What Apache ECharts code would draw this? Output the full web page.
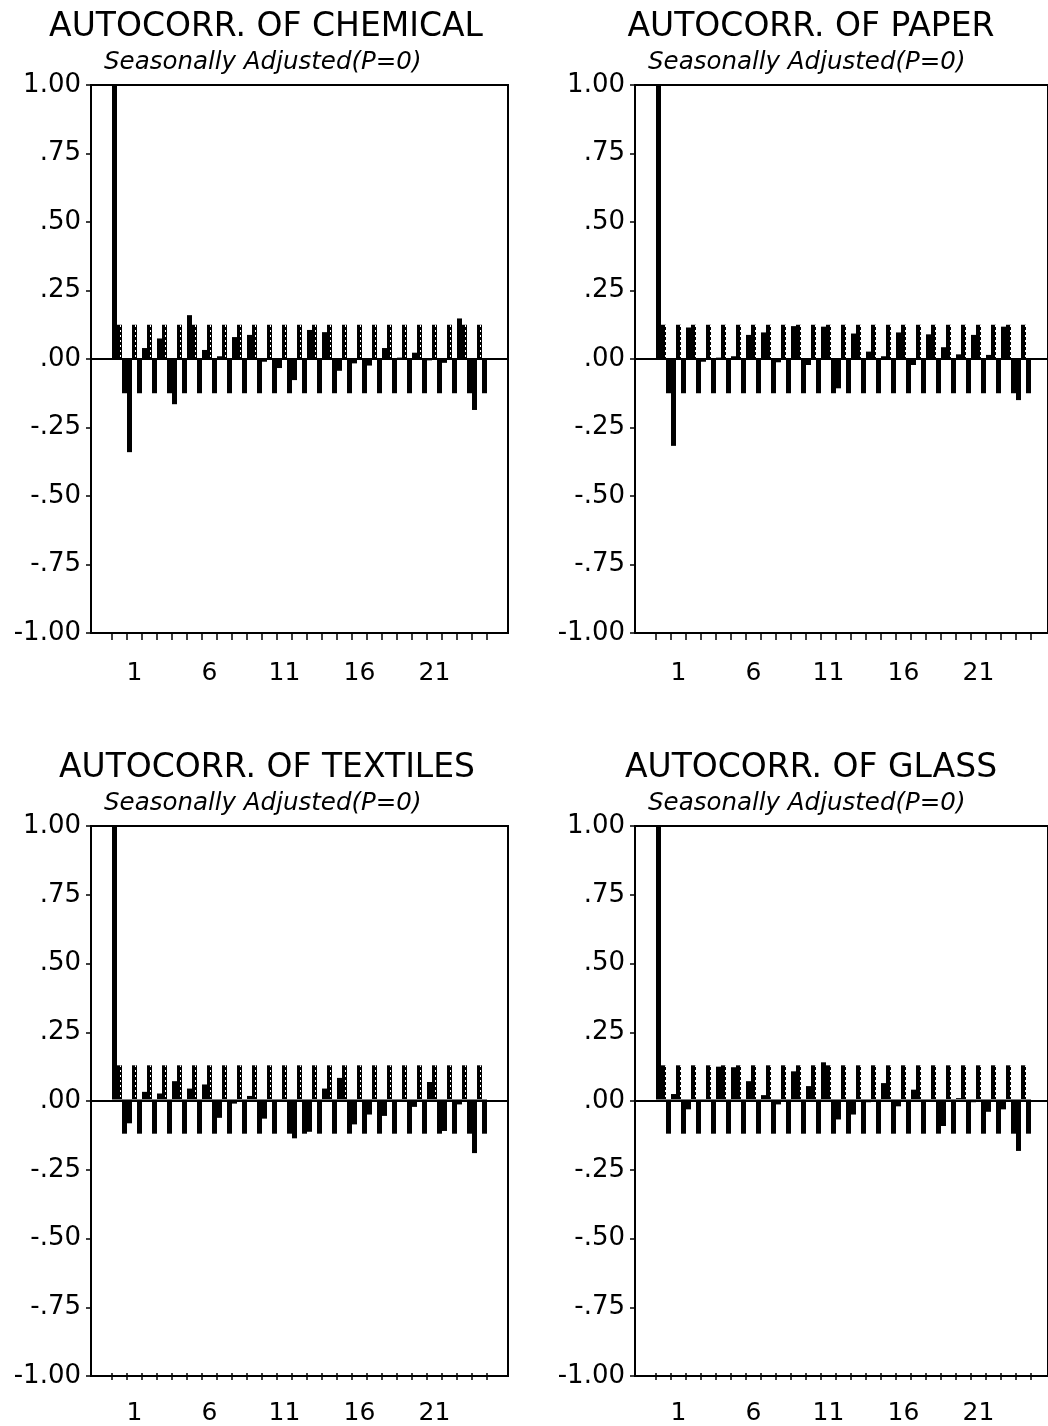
<!DOCTYPE html>
<html>
<head>
<meta charset="utf-8">
<script src="https://cdn.jsdelivr.net/npm/echarts@6/dist/echarts.min.js"></script>
<style>
  html, body { margin: 0; padding: 0; background: #fff; }
  #chart { width: 1048px; height: 1426px; }
</style>
</head>
<body>
<div id="chart"></div>
<script>
// ---- Data ----
const lags = ['0','1','2','3','4','5','6','7','8','9','10','11','12','13','14','15','16','17','18','19','20','21','22','23','24'];
const xLabelShown = ['1','6','11','16','21'];
const yTickValues = [-1, -0.75, -0.5, -0.25, 0, 0.25, 0.5, 0.75, 1];
const yTickLabels = ['-1.00','-.75','-.50','-.25','.00','.25','.50','.75','1.00'];

const chemicalAcf = [1.00, -0.34, 0.04, 0.075, -0.165, 0.16, 0.033, 0.01, 0.08, 0.088, -0.01, -0.033, -0.077, 0.106, 0.098, -0.043, -0.016, -0.024, 0.04, 0.005, 0.023, -0.005, -0.014, 0.148, -0.186];
const paperAcf    = [1.00, -0.317, 0.115, -0.01, 0.005, 0.01, 0.088, 0.097, -0.012, 0.12, -0.022, 0.118, -0.107, 0.093, 0.027, 0.01, 0.097, -0.022, 0.09, 0.043, 0.017, 0.088, 0.015, 0.118, -0.15];
const textilesAcf = [1.00, -0.087, 0.028, 0.022, 0.067, 0.04, 0.055, -0.067, -0.015, 0.013, -0.07, -0.005, -0.142, -0.118, 0.04, 0.079, -0.091, -0.055, -0.06, -0.008, -0.027, 0.064, -0.115, -0.018, -0.196];
const glassAcf    = [1.00, 0.02, -0.036, -0.005, 0.12, 0.118, 0.067, 0.016, -0.018, 0.103, 0.049, 0.136, -0.073, -0.055, -0.01, 0.06, -0.025, 0.036, -0.005, -0.097, 0.005, -0.01, -0.045, -0.036, -0.188];

const bandUpper = [0.125,0.125,0.125,0.125,0.125,0.125,0.125,0.125,0.125,0.125,0.125,0.125,0.125,0.125,0.125,0.125,0.125,0.125,0.125,0.125,0.125,0.125,0.125,0.125,0.125];
const bandLower = [-0.125,-0.125,-0.125,-0.125,-0.125,-0.125,-0.125,-0.125,-0.125,-0.125,-0.125,-0.125,-0.125,-0.125,-0.125,-0.125,-0.125,-0.125,-0.125,-0.125,-0.125,-0.125,-0.125,-0.125,-0.125];

const titles = ['AUTOCORR. OF CHEMICAL', 'AUTOCORR. OF PAPER', 'AUTOCORR. OF TEXTILES', 'AUTOCORR. OF GLASS'];
const subtitle = 'Seasonally Adjusted(P=0)';
const acfSets = [chemicalAcf, paperAcf, textilesAcf, glassAcf];

// ---- Layout ----
const FONT = 'DejaVu Sans';
const layout = [
  { left: 91,  top: 85,  height: 548, titleX: 261, titleTop: 6,   subX: 99,  subTop: 45 },
  { left: 635, top: 85,  height: 548, titleX: 806, titleTop: 6,   subX: 643, subTop: 45 },
  { left: 91,  top: 826, height: 550, titleX: 262, titleTop: 747, subX: 99,  subTop: 786 },
  { left: 635, top: 826, height: 550, titleX: 806, titleTop: 747, subX: 643, subTop: 786 }
];
const BOX_W = 417, BAR_OFFSET = 21, BAR_W = 375;

const grid = [], xAxis = [], yAxis = [], series = [], title = [];

layout.forEach((p, i) => {
  const gA = 2 * i, gB = 2 * i + 1;
  title.push({
    text: titles[i], left: p.titleX, top: p.titleTop, textAlign: 'center',
    textStyle: { fontFamily: FONT, fontSize: 33, fontWeight: 'normal', color: '#000' }
  });
  title.push({
    text: subtitle, left: p.subX, top: p.subTop,
    textStyle: { fontFamily: FONT, fontSize: 24.5, fontStyle: 'italic', fontWeight: 'normal', color: '#000' }
  });
  grid.push({ left: p.left, top: p.top, width: BOX_W, height: p.height, show: true, borderColor: '#000', borderWidth: 2, backgroundColor: 'transparent' });
  grid.push({ left: p.left + BAR_OFFSET, top: p.top, width: BAR_W, height: p.height });

  xAxis.push({ gridIndex: gA, type: 'value', min: 0, max: 1, show: false });
  xAxis.push({
    gridIndex: gB, type: 'category', data: lags, boundaryGap: true, position: 'bottom',
    axisLine: { show: false, onZero: false },
    axisTick: { show: true, length: 7, interval: 0, lineStyle: { color: '#000', width: 1.5 } },
    axisLabel: {
      interval: 0, margin: 28, color: '#000', fontFamily: FONT, fontSize: 25,
      formatter: v => xLabelShown.indexOf(v) >= 0 ? v : ''
    },
    splitLine: { show: false }
  });
  yAxis.push({
    gridIndex: gA, type: 'value', min: -1, max: 1, interval: 0.25,
    axisLine: { show: true, lineStyle: { color: '#000', width: 2 } },
    axisTick: { show: true, length: 5, lineStyle: { color: '#000', width: 1.5 } },
    axisLabel: {
      margin: 10, color: '#000', fontFamily: FONT, fontSize: 26,
      formatter: v => { const k = yTickValues.findIndex(t => Math.abs(t - v) < 1e-6); return k >= 0 ? yTickLabels[k] : ''; }
    },
    splitLine: { show: false }
  });
  yAxis.push({ gridIndex: gB, type: 'value', min: -1, max: 1, show: false });

  // zero line across the whole box
  series.push({
    type: 'line', xAxisIndex: gA, yAxisIndex: gA, data: [[0, 0], [1, 0]],
    symbol: 'none', lineStyle: { color: '#000', width: 2 }, silent: true, z: 1
  });
  // ACF bars
  series.push({
    type: 'bar', xAxisIndex: gB, yAxisIndex: gB, data: acfSets[i],
    barGap: '0%', barWidth: 5, itemStyle: { color: '#000' }, silent: true, z: 3
  });
  // upper confidence band (dotted)
  series.push({
    type: 'bar', xAxisIndex: gB, yAxisIndex: gB, data: bandUpper,
    barGap: '0%', barWidth: 5,
    itemStyle: {
      color: '#000',
      decal: { symbol: 'rect', symbolSize: 1, color: '#fff', dashArrayX: [1, 4], dashArrayY: [1.5, 2.5], rotation: 0 }
    },
    silent: true, z: 3
  });
  // lower confidence band (solid)
  series.push({
    type: 'bar', xAxisIndex: gB, yAxisIndex: gB, data: bandLower,
    barGap: '0%', barWidth: 5, itemStyle: { color: '#000' }, silent: true, z: 3
  });
});

const chart = echarts.init(document.getElementById('chart'), null, { renderer: 'canvas' });
chart.setOption({
  backgroundColor: '#fff',
  animation: false,
  title, grid, xAxis, yAxis, series
});
</script>
</body>
</html>
